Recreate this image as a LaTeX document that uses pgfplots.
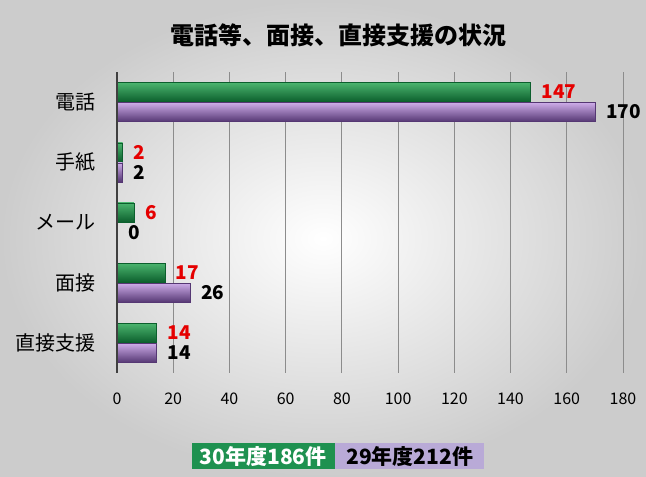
\documentclass[border=0pt]{standalone}
\usepackage{fontspec}
\setmainfont{Noto Sans CJK JP}
\usepackage{pgfplots}
\pgfplotsset{compat=1.18}
\definecolor{grnM}{RGB}{28,140,70}
\definecolor{grnT}{RGB}{75,180,110}
\definecolor{grnB}{RGB}{12,95,45}
\definecolor{purM}{RGB}{150,108,190}
\definecolor{purT}{RGB}{205,172,232}
\definecolor{purB}{RGB}{85,55,115}
\definecolor{legG}{RGB}{30,145,80}
\definecolor{legP}{RGB}{185,170,215}
\pgfplotsset{
  gbar/.style={xbar, bar width=19bp, bar shift=10bp, draw=grnB, line width=0.4pt,
    top color=grnT, middle color=grnM, bottom color=grnB,
    nodes near coords,
    nodes near coords style={text=red!90!black, font=\fontsize{19bp}{22bp}\selectfont\bfseries, anchor=west, inner sep=0pt, xshift=11bp, yshift=10bp}},
  pbar/.style={xbar, bar width=19bp, bar shift=-10bp, draw=purB, line width=0.4pt,
    top color=purT, middle color=purM, bottom color=purB,
    nodes near coords,
    nodes near coords style={text=black, font=\fontsize{19bp}{22bp}\selectfont\bfseries, anchor=west, inner sep=0pt, xshift=11bp, yshift=-10bp}},
}
\begin{document}
\begin{tikzpicture}
\useasboundingbox (0,0) rectangle (646bp,477bp);
\shade[inner color=white, outer color=black!20] (0,0) rectangle (646bp,477bp);
\node[font=\fontsize{24bp}{28bp}\selectfont\bfseries] at (338bp,442bp) {電話等、面接、直接支援の状況};
\begin{axis}[
  at={(117bp,104bp)}, anchor=south west,
  scale only axis, width=506bp, height=301bp,
  xmin=0, xmax=180, ymin=-0.5, ymax=4.5,
  xtick={0,20,...,180},
  ytick={0,1,2,3,4},
  yticklabels={直接支援,面接,メール,手紙,電話},
  xmajorgrids, grid style={black!45, line width=0.8pt},
  axis line style={draw=none},
  major tick length=0pt,
  /pgf/number format/assume math mode=true,
  xticklabel style={font=\fontsize{16bp}{19bp}\selectfont, inner sep=0pt, yshift=-20bp},
  yticklabel style={font=\fontsize{20bp}{23bp}\selectfont, inner sep=0pt, xshift=-21bp},
  clip=false,
]
% 30年度 (green)
\addplot[gbar] coordinates {(147,4)};
\addplot[gbar] coordinates {(2,3)};
\addplot[gbar] coordinates {(6,2)};
\addplot[gbar] coordinates {(17,1)};
\addplot[gbar] coordinates {(14,0)};
% 29年度 (purple)
\addplot[pbar] coordinates {(170,4)};
\addplot[pbar] coordinates {(2,3)};
\addplot[pbar] coordinates {(0,2)};
\addplot[pbar] coordinates {(26,1)};
\addplot[pbar] coordinates {(14,0)};
\draw[black!75, line width=1.5pt] (axis cs:0,-0.5) -- (axis cs:0,4.5);
\end{axis}
\node[fill=legG, text=white, font=\fontsize{21bp}{24bp}\selectfont\bfseries, minimum width=143bp, minimum height=26bp, inner sep=0pt, anchor=east] at (335bp,20.5bp) {30年度186件};
\node[fill=legP, text=black, font=\fontsize{21bp}{24bp}\selectfont\bfseries, minimum width=149bp, minimum height=26bp, inner sep=0pt, anchor=west] at (335bp,20.5bp) {29年度212件};
\end{tikzpicture}
\end{document}
